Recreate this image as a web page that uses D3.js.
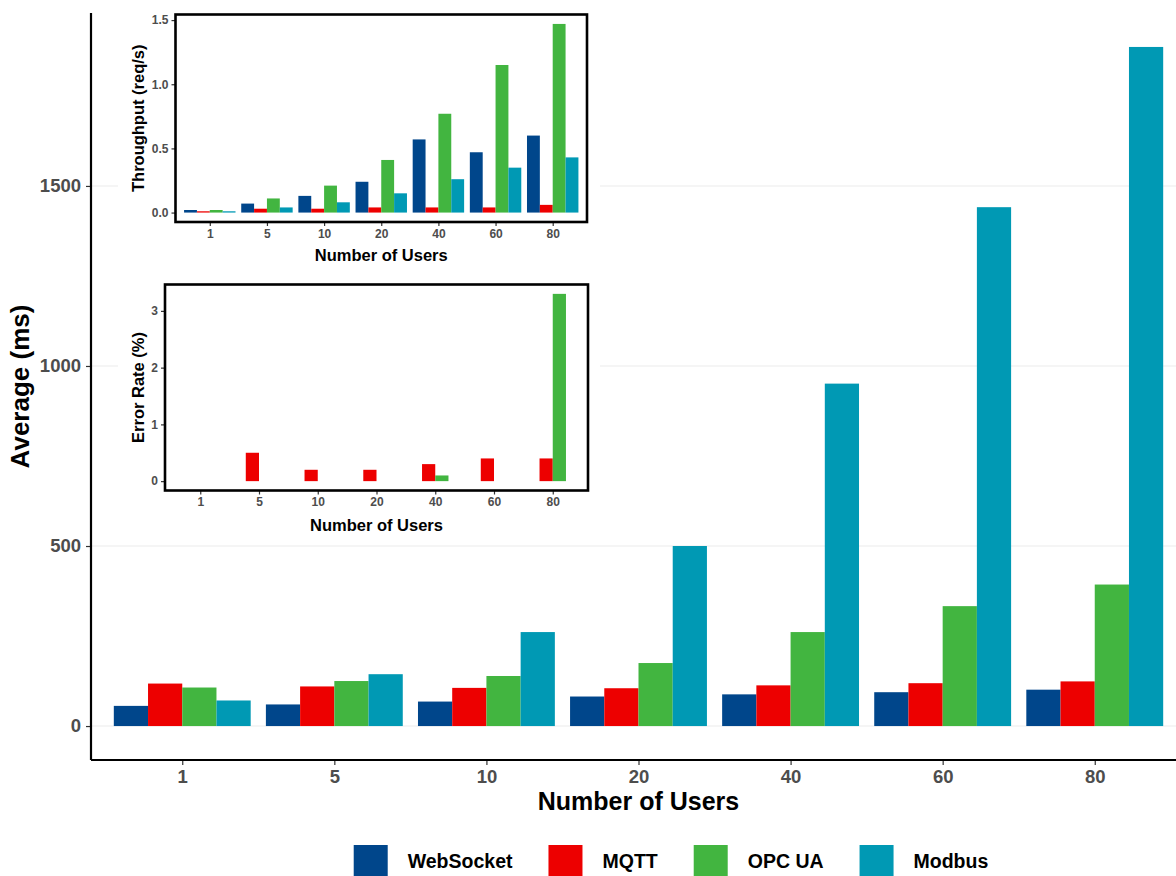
<!DOCTYPE html>
<html>
<head>
<meta charset="utf-8">
<script src="https://cdn.jsdelivr.net/npm/d3@7"></script>
<style>
  html, body { margin: 0; padding: 0; background: #ffffff; }
  svg { display: block; font-family: "Liberation Sans", Arial, Helvetica, sans-serif; }
</style>
</head>
<body>
<svg id="chart" width="1176" height="876"></svg>
<script>
// ---- data -------------------------------------------------------------
const users = ["1", "5", "10", "20", "40", "60", "80"];
const protocols = ["WebSocket", "MQTT", "OPC UA", "Modbus"];
const protocolColors = ["#00468B", "#ED0000", "#42B540", "#0099B4"];

// average response time (ms)
const avgWebSocket = [56, 60, 68, 82, 88, 94, 101];
const avgMQTT      = [118, 110, 106, 105, 113, 119, 124];
const avgOPCUA     = [107, 125, 139, 175, 261, 333, 393];
const avgModbus    = [71, 144, 261, 500, 951, 1441, 1886];
const avgTicks     = [0, 500, 1000, 1500];

// throughput (req/s)
const tpWebSocket = [0.02, 0.07, 0.13, 0.24, 0.57, 0.47, 0.60];
const tpMQTT      = [0.01, 0.03, 0.03, 0.04, 0.04, 0.04, 0.06];
const tpOPCUA     = [0.02, 0.11, 0.21, 0.41, 0.77, 1.15, 1.47];
const tpModbus    = [0.01, 0.04, 0.08, 0.15, 0.26, 0.35, 0.43];
const tpTicks     = [0, 0.5, 1.0, 1.5];

// error rate (%)
const errWebSocket = [0, 0, 0, 0, 0, 0, 0];
const errMQTT      = [0, 0.5, 0.2, 0.2, 0.3, 0.4, 0.4];
const errOPCUA     = [0, 0, 0, 0, 0.1, 0, 3.3];
const errModbus    = [0, 0, 0, 0, 0, 0, 0];
const errTicks     = [0, 1, 2, 3];

// ---- helpers ----------------------------------------------------------
const svg = d3.select("#chart");
const color = d3.scaleOrdinal().domain(protocols).range(protocolColors);

function rows(seriesList) {
  return users.map((u, i) => ({
    user: u,
    values: protocols.map((p, k) => ({ protocol: p, value: seriesList[k][i] }))
  }));
}

// grouped bar panel; expansion follows the usual 5% / 0.6-category rule
function barPanel(g, cfg) {
  const { left, right, top, bottom, series } = cfg;
  const all = series.flat();
  const maxV = d3.max(all);
  const x = d3.scalePoint().domain(users).range([left, right]).padding(0.6);
  const groupW = x.step() * 0.9;
  const xs = d3.scaleBand().domain(protocols).range([-groupW / 2, groupW / 2]).padding(0);
  const y = d3.scaleLinear().domain([-0.05 * maxV, 1.05 * maxV]).range([bottom, top]);

  if (cfg.background) {
    g.append("rect").attr("x", cfg.background[0]).attr("y", cfg.background[1])
      .attr("width", cfg.background[2]).attr("height", cfg.background[3]).attr("fill", "#ffffff");
  }

  if (cfg.grid) {
    g.append("g").selectAll("line").data(cfg.ticks).join("line")
      .attr("x1", left).attr("x2", right)
      .attr("y1", d => y(d)).attr("y2", d => y(d))
      .attr("stroke", "#ebebeb").attr("stroke-width", 1.1);
  }

  const grp = g.append("g").selectAll("g").data(rows(series)).join("g")
    .attr("transform", d => `translate(${x(d.user)},0)`);
  grp.selectAll("rect").data(d => d.values).join("rect")
    .attr("x", d => xs(d.protocol))
    .attr("width", xs.bandwidth())
    .attr("y", d => y(Math.max(0, d.value)))
    .attr("height", d => Math.abs(y(d.value) - y(0)))
    .attr("fill", d => color(d.protocol));

  // y axis
  const yAxis = d3.axisLeft(y).tickValues(cfg.ticks).tickFormat(cfg.tickFormat)
    .tickSize(cfg.tickLen).tickPadding(cfg.tickPad);
  const ya = g.append("g").attr("transform", `translate(${left},0)`).call(yAxis);
  ya.select(".domain").remove();
  ya.selectAll(".tick line").attr("stroke", "#333333").attr("stroke-width", 1.2);
  ya.selectAll(".tick text").attr("fill", "#4d4d4d").attr("font-weight", "bold")
    .attr("font-size", cfg.tickFont).attr("font-family", null);

  // x axis
  const xAxis = d3.axisBottom(x).tickSize(cfg.tickLen).tickPadding(cfg.tickPad);
  const xa = g.append("g").attr("transform", `translate(0,${bottom})`).call(xAxis);
  xa.select(".domain").remove();
  xa.selectAll(".tick line").attr("stroke", "#333333").attr("stroke-width", 1.2);
  xa.selectAll(".tick text").attr("fill", "#4d4d4d").attr("font-weight", "bold")
    .attr("font-size", cfg.tickFont).attr("font-family", null);

  if (cfg.border) {
    g.append("rect").attr("x", left).attr("y", top)
      .attr("width", right - left).attr("height", bottom - top)
      .attr("fill", "none").attr("stroke", "#000").attr("stroke-width", 2.6);
  } else {
    g.append("line").attr("x1", left).attr("x2", left).attr("y1", top).attr("y2", bottom)
      .attr("stroke", "#000").attr("stroke-width", 2.2);
    g.append("line").attr("x1", left).attr("x2", right).attr("y1", bottom).attr("y2", bottom)
      .attr("stroke", "#000").attr("stroke-width", 2.2);
  }

  // axis titles
  g.append("text").attr("x", (left + right) / 2)
    .attr("y", cfg.xTitleY).attr("text-anchor", "middle").attr("dominant-baseline", "central")
    .attr("font-weight", "bold").attr("font-size", cfg.titleFont).attr("fill", "#000")
    .text("Number of Users");
  g.append("text")
    .attr("transform", `translate(${cfg.yTitleX},${(top + bottom) / 2}) rotate(-90)`)
    .attr("text-anchor", "middle").attr("dominant-baseline", "central")
    .attr("font-weight", "bold").attr("font-size", cfg.yTitleFont || cfg.titleFont).attr("fill", "#000")
    .text(cfg.yTitle);
}

// ---- main chart: average response time ------------------------------
barPanel(svg.append("g"), {
  left: 91, right: 1186, top: 13, bottom: 760,
  series: [avgWebSocket, avgMQTT, avgOPCUA, avgModbus],
  ticks: avgTicks, tickFormat: d3.format("d"),
  grid: true, tickLen: 5, tickPad: 5, tickFont: "18.5px",
  titleFont: "25px", yTitleFont: "26px", xTitleY: 801, yTitleX: 20, yTitle: "Average (ms)"
});

// ---- inset: throughput -----------------------------------------------
barPanel(svg.append("g"), {
  left: 175.5, right: 587, top: 14.5, bottom: 222,
  background: [118, 0, 482, 268],
  series: [tpWebSocket, tpMQTT, tpOPCUA, tpModbus],
  ticks: tpTicks, tickFormat: d3.format(".1f"),
  border: true, tickLen: 4, tickPad: 3, tickFont: "12px",
  titleFont: "16.5px", xTitleY: 255, yTitleX: 138, yTitle: "Throughput (req/s)"
});

// ---- inset: error rate -----------------------------------------------
barPanel(svg.append("g"), {
  left: 165, right: 588, top: 284.5, bottom: 490.5,
  background: [118, 272, 482, 266],
  series: [errWebSocket, errMQTT, errOPCUA, errModbus],
  ticks: errTicks, tickFormat: d3.format("d"),
  border: true, tickLen: 4, tickPad: 3, tickFont: "12px",
  titleFont: "16.5px", xTitleY: 525, yTitleX: 138, yTitle: "Error Rate (%)"
});

// ---- legend ------------------------------------------------------------
const legend = svg.append("g");
const keyW = 34, keyH = 32, keyGap = 20, itemGap = 36, legendY = 845;
const items = legend.selectAll("g").data(protocols).join("g");
items.append("rect").attr("width", keyW).attr("height", keyH).attr("y", legendY)
  .attr("fill", d => color(d));
items.append("text").attr("x", keyW + keyGap).attr("y", legendY + 16)
  .attr("dominant-baseline", "central")
  .attr("font-weight", "bold").attr("font-size", "19.5px").attr("fill", "#000")
  .text(d => d);
let widths = [];
items.each(function () { widths.push(d3.select(this).select("text").node().getComputedTextLength()); });
const total = d3.sum(widths.map(w => keyW + keyGap + w)) + itemGap * (protocols.length - 1);
let cursor = 671 - total / 2;
items.attr("transform", (d, i) => {
  const t = `translate(${cursor},0)`;
  cursor += keyW + keyGap + widths[i] + itemGap;
  return t;
});
</script>
</body>
</html>
